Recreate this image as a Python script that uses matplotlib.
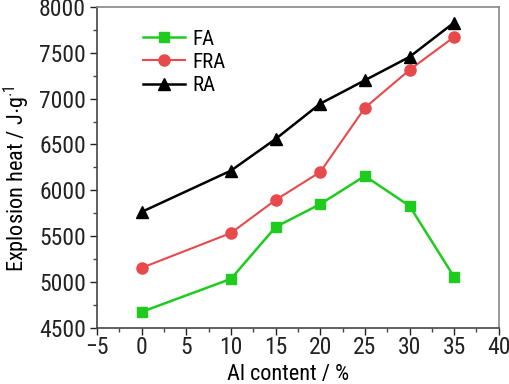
import matplotlib
matplotlib.use("Agg")
import matplotlib.pyplot as plt
from matplotlib.ticker import MultipleLocator

plt.rcParams['font.family'] = ['Roboto Condensed', 'Liberation Sans', 'DejaVu Sans']
plt.rcParams['mathtext.fontset'] = 'custom'
plt.rcParams['mathtext.rm'] = 'Roboto Condensed'

al_content = [0, 10, 15, 20, 25, 30, 35]
fa = [4675, 5035, 5600, 5850, 6157, 5830, 5055]
fra = [5155, 5535, 5895, 6200, 6900, 7313, 7673]
ra = [5765, 6215, 6560, 6945, 7200, 7455, 7830]

fig = plt.figure(figsize=(5.09, 3.84), dpi=100)
ax = fig.add_axes([0.1906, 0.146, 0.7894, 0.836])

ax.plot(al_content, fa, color='#1ecb1e', marker='s', markersize=7, lw=1.8, label='FA')
ax.plot(al_content, fra, color='#e8494b', marker='o', markersize=8, lw=1.5, label='FRA')
ax.plot(al_content, ra, color='black', marker='^', markersize=9, lw=1.8, label='RA')

ax.set_xlim(-5, 40)
ax.set_ylim(4500, 8000)
ax.xaxis.set_major_locator(MultipleLocator(5))
ax.xaxis.set_minor_locator(MultipleLocator(2.5))
ax.yaxis.set_major_locator(MultipleLocator(500))
ax.yaxis.set_minor_locator(MultipleLocator(250))

ax.tick_params(axis='both', which='major', direction='out', length=5, width=1, labelsize=17, colors='#222222')
ax.tick_params(axis='x', which='major', pad=1)
ax.tick_params(axis='y', which='major', pad=3)
ax.tick_params(axis='both', which='minor', direction='out', length=3, width=1, colors='#444444')
ax.tick_params(top=False, right=False)
for s in ['left', 'bottom']:
    ax.spines[s].set_color('#444444')
    ax.spines[s].set_linewidth(1.2)
for s in ['top', 'right']:
    ax.spines[s].set_color('#888888')
    ax.spines[s].set_linewidth(1.2)

ax.set_xlabel('Al content / %', fontsize=16)
ax.xaxis.set_label_coords(0.475, -0.113)
ax.set_ylabel('Explosion heat / J$\\cdot$g$^{\\cdot 1}$', fontsize=16)
ax.yaxis.set_label_coords(-0.163, 0.464)

ax.legend(loc='upper left', bbox_to_anchor=(0.078, 0.975), frameon=False, fontsize=15,
          handlelength=2.0, handletextpad=0.35, labelspacing=0.2, borderpad=0.2)

fig.savefig('out.png', dpi=100)
